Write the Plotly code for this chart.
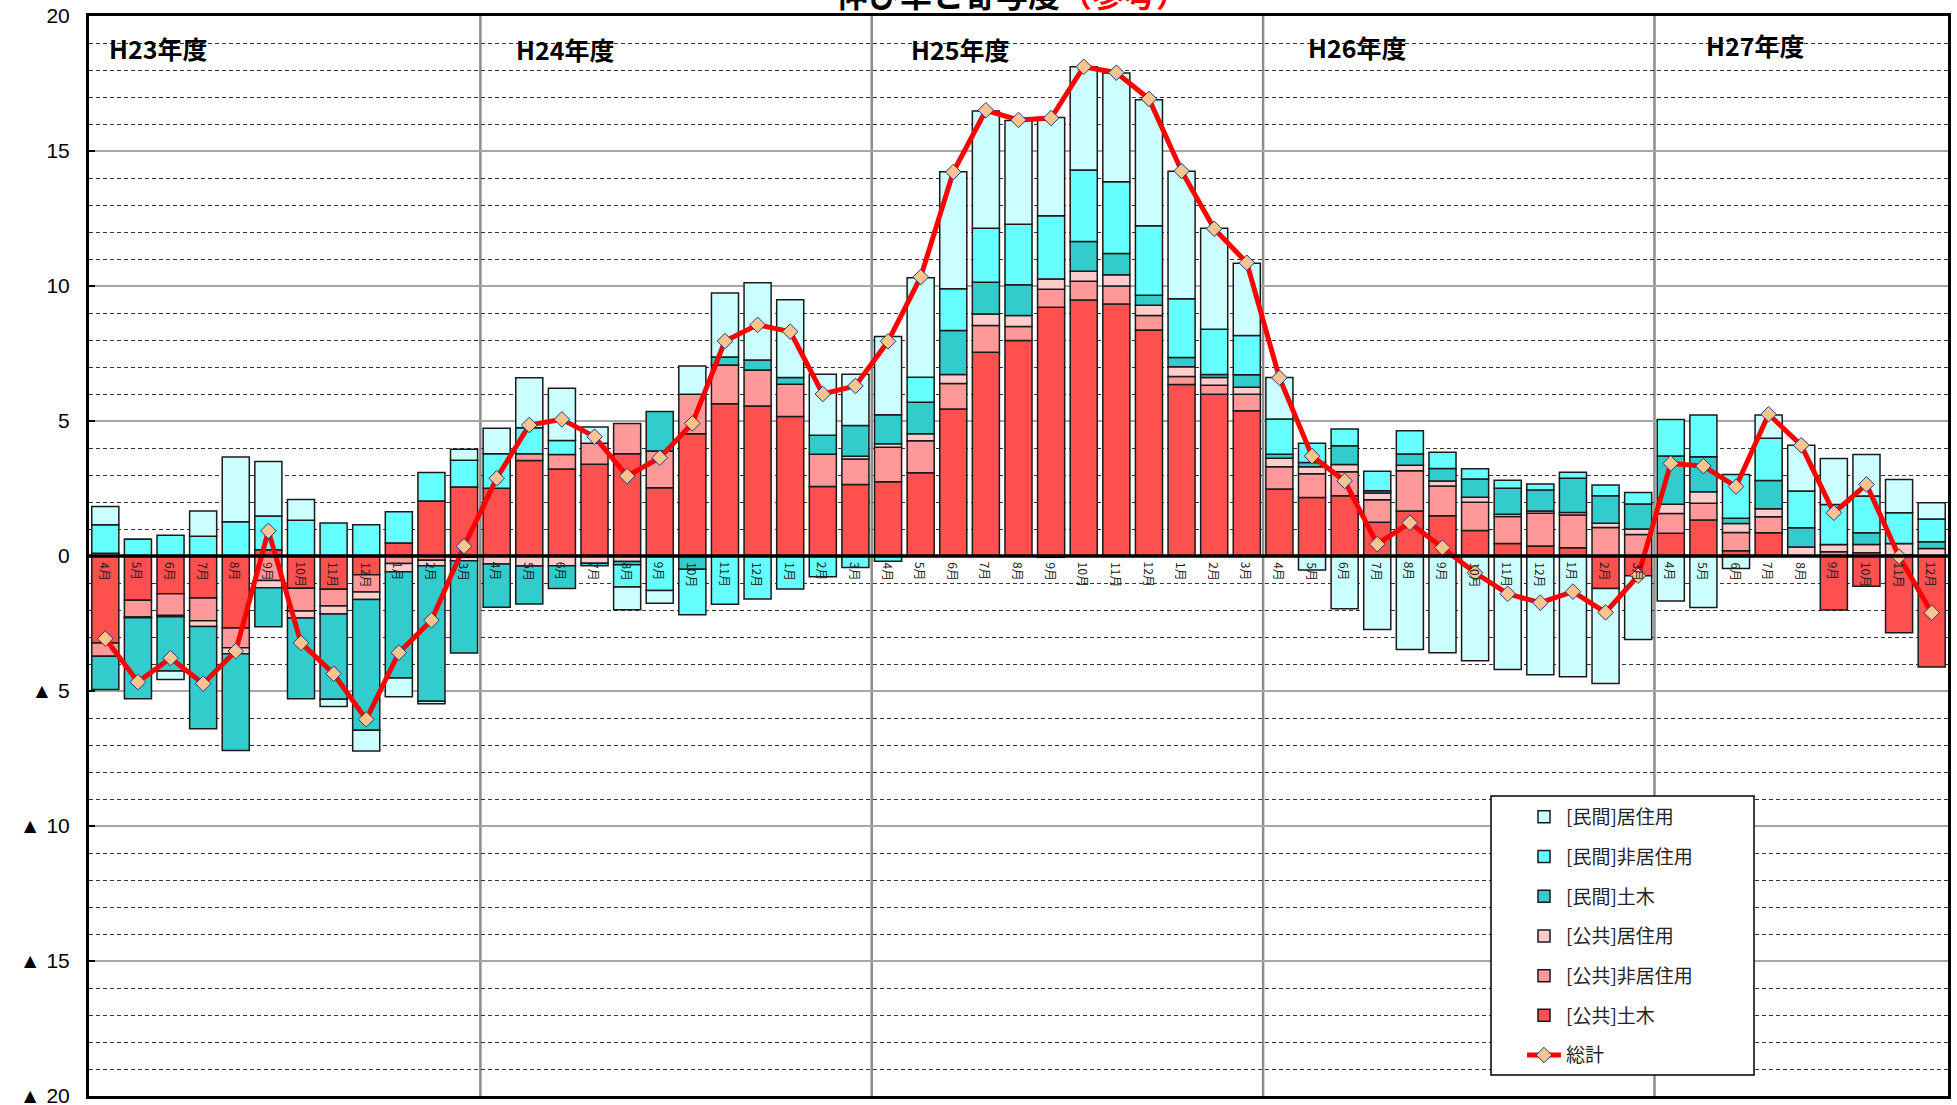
import plotly.graph_objects as go

# ---------------- data ----------------
fiscal_years = ["H23年度", "H24年度", "H25年度", "H26年度", "H27年度"]
months_per_year = [12, 12, 12, 12, 9]
month_names = ["4月", "5月", "6月", "7月", "8月", "9月", "10月", "11月", "12月", "1月", "2月", "3月"]

pub_civil = [
    -3.22, -1.64, -1.40, -1.56, -2.67, 0.23, -1.19, -1.23, -0.69, 0.48, 2.04, 2.56,
    2.51, 3.54, 3.22, 3.40, 3.79, 2.53, 4.53, 5.64, 5.56, 5.17, 2.57, 2.65,
    2.75, 3.08, 5.44, 7.55, 7.98, 9.21, 9.48, 9.33, 8.37, 6.35, 5.99, 5.38,
    2.48, 2.17, 2.23, 1.25, 1.67, 1.49, 0.94, 0.46, 0.37, 0.31, -1.20, -0.73,
    0.84, 1.33, 0.19, 0.86, 0.00, -2.00, -1.12, -2.84, -4.11,
]
pub_nonres = [
    -0.49, -0.62, -0.80, -0.84, -0.73, -0.91, -0.85, -0.62, -0.64, -0.28, -0.16, -0.05,
    0.00, 0.25, 0.54, 0.78, 1.12, 1.36, 1.46, 1.43, 1.33, 1.19, 1.20, 0.94,
    1.28, 1.19, 0.95, 0.99, 0.52, 0.67, 0.70, 0.67, 0.54, 0.30, 0.33, 0.61,
    0.83, 0.88, 0.89, 0.83, 1.49, 1.10, 1.05, 1.00, 1.21, 1.21, 1.06, 0.80,
    0.73, 0.62, 0.68, 0.59, 0.00, 0.16, 0.12, 0.05, 0.00,
]
pub_res = [
    0.10, -0.03, -0.05, -0.21, -0.22, -0.27, -0.26, -0.30, -0.28, -0.30, -0.20, -0.13,
    -0.30, -0.37, -0.36, -0.27, -0.20, 0.00, 0.00, 0.00, 0.00, 0.00, 0.00, 0.10,
    0.13, 0.26, 0.33, 0.42, 0.41, 0.38, 0.37, 0.42, 0.38, 0.36, 0.29, 0.26,
    0.31, 0.26, 0.27, 0.25, 0.20, 0.19, 0.19, 0.09, 0.09, 0.09, 0.15, 0.20,
    0.35, 0.43, 0.33, 0.30, 0.33, 0.27, 0.31, 0.41, 0.28,
]
pri_civil = [
    -1.23, -3.00, -2.01, -3.79, -3.58, -1.44, -2.99, -3.16, -4.84, -3.94, -5.02, -3.41,
    -1.60, -1.41, -0.84, -0.09, -0.12, 1.46, -0.49, 0.30, 0.37, 0.25, 0.70, 1.14,
    1.07, 1.16, 1.63, 1.18, 1.14, -0.05, 1.10, 0.78, 0.37, 0.34, 0.11, 0.46,
    0.15, 0.15, 0.69, 0.09, 0.42, 0.46, 0.67, 0.96, 0.77, 1.27, 1.02, 0.93,
    1.78, 1.30, 0.20, 1.05, 0.72, 0.00, 0.43, 0.00, 0.25,
]
pri_nonres = [
    1.06, 0.62, 0.77, 0.73, 1.27, 1.25, 1.32, 1.22, 1.16, 1.16, 1.05, 0.99,
    1.28, 0.96, 0.52, 0.00, -0.83, -1.28, -1.69, -1.79, -1.59, -1.22, -0.77, -0.43,
    -0.19, 0.93, 1.55, 2.00, 2.24, 2.34, 2.65, 2.66, 2.57, 2.18, 1.68, 1.46,
    1.30, 0.72, 0.62, 0.72, 0.86, 0.60, 0.38, 0.30, 0.23, 0.22, 0.40, 0.42,
    1.36, 1.54, 1.62, 1.56, 1.36, 1.48, 1.36, 1.14, 0.84,
]
pri_res = [
    0.67, 0.00, -0.31, 0.94, 2.40, 2.02, 0.77, -0.26, -0.77, -0.69, -0.09, 0.40,
    0.94, 1.85, 1.93, 0.60, -0.84, -0.47, 1.05, 2.37, 2.86, 2.88, 2.26, 1.90,
    2.90, 3.69, 4.33, 4.34, 3.84, 3.64, 3.82, 4.03, 4.67, 4.72, 3.74, 2.67,
    1.54, -0.52, -1.95, -2.72, -3.46, -3.58, -3.88, -4.20, -4.40, -4.47, -3.52, -2.36,
    -1.67, -1.91, -0.46, 0.86, 1.69, 1.70, 1.54, 1.23, 0.60,
]
total = [
    -3.06, -4.67, -3.78, -4.73, -3.52, 0.93, -3.22, -4.36, -6.05, -3.58, -2.38, 0.36,
    2.88, 4.85, 5.06, 4.42, 2.96, 3.64, 4.91, 7.96, 8.56, 8.31, 6.00, 6.30,
    7.95, 10.33, 14.22, 16.51, 16.15, 16.22, 18.12, 17.90, 16.93, 14.26, 12.12, 10.86,
    6.60, 3.70, 2.78, 0.44, 1.23, 0.31, -0.62, -1.40, -1.73, -1.32, -2.09, -0.73,
    3.43, 3.33, 2.57, 5.25, 4.10, 1.60, 2.65, -0.02, -2.10,
]

y_tickvals = [20, 15, 10, 5, 0, -5, -10, -15, -20]
y_ticktext = ["20", "15", "10", "5", "0", "▲ 5", "▲ 10", "▲ 15", "▲ 20"]

# ---------------- build ----------------
month_labels = []
for n in months_per_year:
    month_labels += month_names[:n]
xs = list(range(len(month_labels)))

series = [
    ("[公共]土木", pub_civil, "#FF5050", 6),
    ("[公共]非居住用", pub_nonres, "#FF9999", 5),
    ("[公共]居住用", pub_res, "#FFCCCC", 4),
    ("[民間]土木", pri_civil, "#33CCCC", 3),
    ("[民間]非居住用", pri_nonres, "#66FFFF", 2),
    ("[民間]居住用", pri_res, "#CCFFFF", 1),
]

fig = go.Figure()
for name, vals, color, rank in series:
    fig.add_trace(go.Bar(
        x=xs, y=vals, name=name, legendrank=rank, legendgroup=name,
        marker=dict(color=color, line=dict(color="#1A1A1A", width=1.5)),
    ))
fig.add_trace(go.Scatter(
    x=xs, y=total, name="総計", legendrank=7, legendgroup="total",
    mode="lines+markers",
    line=dict(color="#FF0000", width=5),
    marker=dict(symbol="diamond", size=12, color="#FBC38E",
                line=dict(color="#1F3A80", width=1)),
))

W, H = 1957, 1105
plot_l, plot_r, plot_t, plot_b = 89, 1948, 16, 1096


def px_x(p):
    return (p - plot_l) / (plot_r - plot_l)


def px_y(p):
    return (plot_b - p) / (plot_b - plot_t)


# annotations
ann = []
for i, lab in enumerate(month_labels):
    ann.append(dict(x=xs[i], y=-0.15, xref="x", yref="y", text=lab, showarrow=False,
                    textangle=90, xanchor="center", yanchor="top",
                    font=dict(size=12, color="#1A1A1A", family="Noto Sans CJK JP")))

year_px = [107, 514, 909, 1306, 1704]
year_y = [18.82, 18.78, 18.78, 18.86, 18.94]
for fy, px, yy in zip(fiscal_years, year_px, year_y):
    ann.append(dict(x=px_x(px), y=yy, xref="paper", yref="y",
                    text="<b>" + fy + "</b>", showarrow=False, xanchor="left", yanchor="middle",
                    font=dict(size=25, color="#000000", family="Noto Sans CJK JP")))

ann.append(dict(x=px_x(1012), y=1, xref="paper", yref="paper",
                yanchor="bottom", xanchor="center", yshift=-2, showarrow=False,
                text="<b>伸び率と寄与度<span style='color:#FF0000'>（参考）</span></b>",
                font=dict(size=32, color="#000000", family="Noto Sans CJK JP")))

shapes = []
cum = 0
for n in months_per_year[:-1]:
    cum += n
    shapes.append(dict(type="line", xref="x", yref="paper", x0=cum - 0.5, x1=cum - 0.5,
                       y0=0, y1=1, line=dict(color="#8C8C8C", width=2.5), layer="below"))
shapes.append(dict(type="line", xref="paper", yref="y", x0=0, x1=1, y0=0, y1=0,
                   line=dict(color="#000000", width=3.5), layer="above"))
# legend frame
shapes.append(dict(type="rect", xref="paper", yref="paper",
                   x0=px_x(1491), x1=px_x(1754), y0=px_y(1075), y1=px_y(796),
                   fillcolor="white", line=dict(color="#000000", width=1.5), layer="above"))

fig.update_layout(
    width=W, height=H,
    margin=dict(l=plot_l, r=W - plot_r, t=plot_t, b=H - plot_b, autoexpand=False),
    paper_bgcolor="white", plot_bgcolor="white",
    barmode="relative", bargap=0.17,
    showlegend=True,
    legend=dict(x=px_x(1522), y=px_y(798),
                xanchor="left", yanchor="top",
                bgcolor="rgba(0,0,0,0)", borderwidth=0,
                font=dict(size=19, color="#222222", family="Noto Sans CJK JP"),
                tracegroupgap=12, itemwidth=34),
    annotations=ann,
    shapes=shapes,
    xaxis=dict(range=[-0.5, len(xs) - 0.5], showticklabels=False, showgrid=False,
               zeroline=False, showline=True, linecolor="#000000", linewidth=3,
               mirror=True, ticks="", automargin=False),
    yaxis=dict(range=[-20, 20], tickvals=y_tickvals, ticktext=y_ticktext,
               showgrid=True, gridcolor="#A6A6A6", gridwidth=1.5, automargin=False,
               zeroline=False, showline=True, linecolor="#000000", linewidth=3,
               mirror=True, ticks="inside", ticklen=6, tickwidth=2, tickcolor="#000000",
               ticklabelstandoff=12, ticklabeloverflow="allow",
               tickfont=dict(size=21, color="#000000",
                             family="Liberation Sans Narrow, Arial Narrow, Liberation Sans"),
               minor=dict(dtick=1, showgrid=True, gridcolor="#333333", griddash="4px,3px",
                          gridwidth=1, ticks="")),
)

fig.write_html("out.html", config={"displayModeBar": False},
               post_script="document.body.style.margin='0';document.body.style.padding='0';")
